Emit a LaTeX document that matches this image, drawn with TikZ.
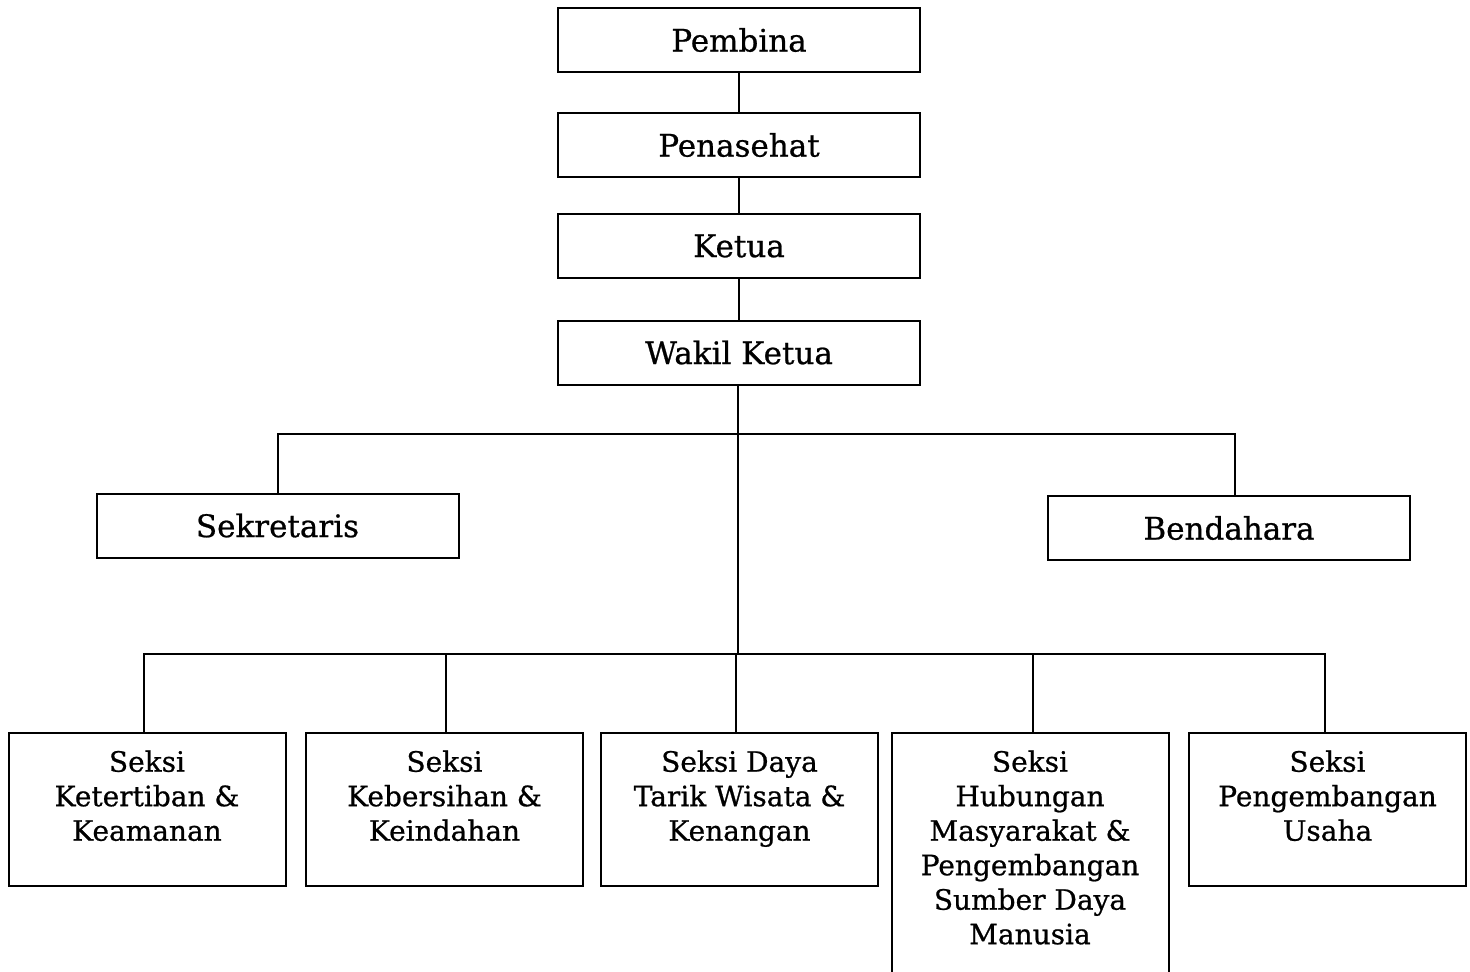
\documentclass[tikz,border=0pt]{standalone}
\usepackage{fontspec}
\setmainfont[FakeBold=0.7]{DejaVu Serif}
\begin{document}
\begin{tikzpicture}[x=0.5pt,y=-0.5pt,
  box/.style={draw, line width=1pt, fill=white, inner sep=0pt, font=\fontsize{15.5}{19}\selectfont},
  topbox/.style={box, minimum width=181pt, minimum height=32pt},
  sbox/.style={box, minimum width=138.5pt, minimum height=76.5pt},
  txt/.style={align=center, inner sep=0pt, font=\fontsize{14}{17.25}\selectfont},
  conn/.style={line width=1pt}]
\useasboundingbox (0,0) rectangle (1470,971);
\begin{scope}
\clip (0,0) rectangle (1470,971);
% top chain
\node[topbox] (pembina) at (739,40) {Pembina};
\node[topbox] (penasehat) at (739,145) {Penasehat};
\node[topbox] (ketua) at (739,246) {Ketua};
\node[topbox] (wakil) at (739,352.5) {Wakil Ketua};
% second level
\node[topbox] (sek) at (277.5,525.5) {Sekretaris};
\node[topbox] (ben) at (1229,528) {Bendahara};
% bottom
\node[sbox] (b1) at (147,809.5) {};
\node[sbox] (b2) at (444.5,809.5) {};
\node[sbox] (b3) at (739.5,809.5) {};
\node[box, minimum width=138.5pt, minimum height=121pt] (b4) at (1030,854) {};
\node[sbox] (b5) at (1327.5,809.5) {};
\node[txt, anchor=north] (t1) at ([yshift=-9pt]b1.north) {Seksi\\Ketertiban \&\\Keamanan};
\node[txt, anchor=north] (t2) at ([yshift=-9pt]b2.north) {Seksi\\Kebersihan \&\\Keindahan};
\node[txt, anchor=north] (t3) at ([yshift=-9pt]b3.north) {Seksi Daya\\Tarik Wisata \&\\Kenangan};
\node[txt, anchor=north] (t4) at ([yshift=-9pt]b4.north) {Seksi\\Hubungan\\Masyarakat \&\\Pengembangan\\Sumber Daya\\Manusia};
\node[txt, anchor=north] (t5) at ([yshift=-9pt]b5.north) {Seksi\\Pengembangan\\Usaha};
% bar coordinates
\coordinate (bar1) at (738,434);
\coordinate (bar2) at (738,654);
% connectors
\draw[conn] (pembina) -- (penasehat);
\draw[conn] (penasehat) -- (ketua);
\draw[conn] (ketua) -- (wakil);
\draw[conn] ([xshift=-0.5pt]wakil.south) -- (bar2);
\draw[conn] (sek.north) |- (bar1) -| ([xshift=3pt]ben.north);
\draw[conn] ([xshift=-1.5pt]b1.north) |- (bar2) -| ([xshift=-1.25pt]b5.north);
\draw[conn] ([xshift=0.75pt]b2.north) -- ([xshift=0.75pt]b2.north |- bar2);
\draw[conn] ([xshift=-1.75pt]b3.north) -- ([xshift=-1.75pt]b3.north |- bar2);
\draw[conn] ([xshift=1.5pt]b4.north) -- ([xshift=1.5pt]b4.north |- bar2);
\end{scope}
\end{tikzpicture}
\end{document}
